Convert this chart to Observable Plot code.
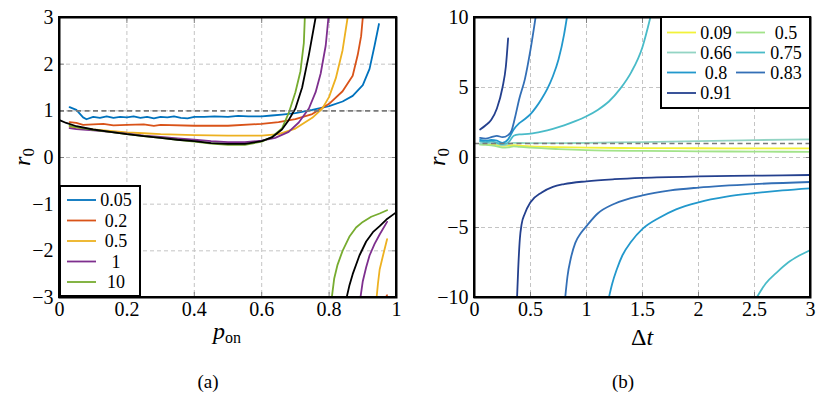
<!DOCTYPE html>
<html><head><meta charset="utf-8">
<script src="https://cdn.jsdelivr.net/npm/d3@7"></script>
<script src="https://cdn.jsdelivr.net/npm/@observablehq/plot@0.6"></script>
<style>
body{margin:0;background:#fff;}
#wrap{position:relative;width:830px;height:397px;display:flex;}
#wrap svg text{font-family:"Liberation Serif","DejaVu Serif",serif;}
</style></head><body><div id="wrap"></div>
<script>
const FONT = '"Liberation Serif", "DejaVu Serif", serif';

// ---------- Panel (a) data ----------
const seriesA = ["0.05", "0.2", "0.5", "1", "10", "limit"];
const colorsA = ["#0072BD", "#D95319", "#EDB120", "#7E2F8E", "#77AC30", "#000000"];
const legendA = ["0.05", "0.2", "0.5", "1", "10"];
const ticksAX = [0, 0.2, 0.4, 0.6, 0.8, 1];
const ticksAY = [-3, -2, -1, 0, 1, 2, 3];

const a005 = [[0.03,1.08],[0.05,1.02],[0.07,0.86],[0.08,0.82],[0.1,0.87],[0.12,0.85],[0.14,0.88],[0.16,0.85],[0.18,0.87],[0.2,0.86],[0.22,0.88],[0.24,0.85],[0.26,0.87],[0.28,0.84],[0.3,0.87],[0.32,0.86],[0.34,0.88],[0.36,0.85],[0.38,0.84],[0.4,0.87],[0.43,0.87],[0.46,0.88],[0.5,0.87],[0.53,0.89],[0.56,0.88],[0.6,0.88],[0.63,0.9],[0.66,0.92],[0.7,0.95],[0.75,1.02],[0.8,1.1],[0.84,1.2],[0.87,1.32],[0.9,1.55],[0.92,1.9],[0.935,2.4],[0.948,2.86]];
const a02pos = [[0.03,0.76],[0.05,0.74],[0.07,0.7],[0.1,0.71],[0.13,0.72],[0.16,0.69],[0.2,0.7],[0.25,0.71],[0.28,0.68],[0.3,0.7],[0.4,0.68],[0.5,0.68],[0.6,0.72],[0.65,0.76],[0.7,0.82],[0.75,0.93],[0.8,1.15],[0.84,1.42],[0.87,1.75],[0.885,2.2],[0.895,2.6],[0.9,3.0]];
const a02neg = [[0.968,-3.0],[0.972,-2.95]];
const a05pos = [[0.03,0.66],[0.05,0.64],[0.1,0.6],[0.15,0.57],[0.2,0.54],[0.25,0.52],[0.3,0.5],[0.35,0.49],[0.4,0.48],[0.5,0.47],[0.55,0.47],[0.6,0.47],[0.65,0.5],[0.7,0.62],[0.75,0.85],[0.78,1.05],[0.8,1.3],[0.82,1.7],[0.84,2.3],[0.855,3.0]];
const a05neg = [[0.941,-3.0],[0.945,-2.7],[0.95,-2.4],[0.96,-2.1],[0.972,-1.75]];
const a1pos = [[0.03,0.63],[0.05,0.61],[0.1,0.58],[0.15,0.55],[0.2,0.51],[0.25,0.47],[0.3,0.44],[0.35,0.41],[0.4,0.38],[0.45,0.35],[0.5,0.33],[0.55,0.33],[0.6,0.36],[0.64,0.42],[0.68,0.55],[0.71,0.75],[0.74,1.05],[0.76,1.4],[0.775,1.8],[0.79,2.4],[0.798,3.0]];
const a1neg = [[0.893,-3.0],[0.9,-2.65],[0.91,-2.35],[0.92,-2.1],[0.935,-1.85],[0.95,-1.65],[0.972,-1.38]];
const a10pos = [[0.03,0.68],[0.05,0.65],[0.1,0.59],[0.15,0.55],[0.2,0.5],[0.25,0.46],[0.3,0.42],[0.35,0.38],[0.4,0.34],[0.45,0.3],[0.5,0.27],[0.55,0.27],[0.6,0.34],[0.63,0.44],[0.66,0.62],[0.68,0.95],[0.7,1.4],[0.715,1.85],[0.725,2.45],[0.728,3.0]];
const a10neg = [[0.808,-3.0],[0.815,-2.6],[0.825,-2.3],[0.84,-2.0],[0.86,-1.7],[0.88,-1.5],[0.9,-1.38],[0.925,-1.27],[0.95,-1.2],[0.972,-1.13]];
const limPos = [[0,0.8],[0.02,0.74],[0.05,0.67],[0.1,0.6],[0.15,0.55],[0.2,0.5],[0.25,0.46],[0.3,0.42],[0.35,0.38],[0.4,0.35],[0.45,0.31],[0.5,0.29],[0.55,0.29],[0.6,0.35],[0.63,0.43],[0.66,0.6],[0.68,0.8],[0.7,1.05],[0.72,1.5],[0.74,2.2],[0.76,3.0]];
const limNeg = [[0.852,-3.0],[0.86,-2.75],[0.87,-2.5],[0.89,-2.1],[0.91,-1.8],[0.93,-1.6],[0.95,-1.47],[0.97,-1.33],[1.0,-1.17]];

// ---------- Panel (b) data ----------
const seriesB = ["0.09", "0.5", "0.66", "0.75", "0.8", "0.83", "0.91"];
const colorsB = ["#f2f23a", "#a2e38a", "#93d4c4", "#49bbc8", "#2298cc", "#336fb6", "#24408e"];
const ticksBX = [0, 0.5, 1, 1.5, 2, 2.5, 3];
const ticksBY = [-10, -5, 0, 5, 10];

const b009 = [[0.05,0.97],[0.1,0.95],[0.15,0.93],[0.2,0.9],[0.25,0.83],[0.3,0.85],[0.35,0.88],[0.4,0.84],[0.5,0.8],[0.75,0.74],[1,0.7],[1.5,0.67],[2,0.66],[2.5,0.65],[3,0.65]];
const b05 = [[0.05,0.92],[0.1,0.9],[0.15,0.86],[0.2,0.8],[0.25,0.7],[0.3,0.72],[0.35,0.8],[0.4,0.76],[0.5,0.7],[0.75,0.6],[1,0.53],[1.5,0.47],[2,0.44],[2.5,0.42],[3,0.4]];
const b066 = [[0.05,1.0],[0.1,1.05],[0.15,1.02],[0.2,1.0],[0.25,0.88],[0.3,0.95],[0.35,1.05],[0.5,1.02],[0.75,1.02],[1,1.05],[1.5,1.1],[2,1.17],[2.5,1.24],[3,1.3]];
const b075pos = [[0.05,1.15],[0.1,1.1],[0.15,1.15],[0.2,1.05],[0.25,0.95],[0.3,1.05],[0.35,1.55],[0.4,1.65],[0.5,1.7],[0.6,1.85],[0.7,2.05],[0.8,2.3],[0.9,2.6],[1.0,2.95],[1.1,3.4],[1.2,4.0],[1.3,4.9],[1.4,6.1],[1.5,7.9],[1.57,10]];
const b075neg = [[2.52,-10],[2.6,-9.0],[2.7,-8.2],[2.8,-7.5],[2.9,-7.0],[3.0,-6.6]];
const b08pos = [[0.05,1.25],[0.1,1.2],[0.15,1.25],[0.2,1.2],[0.25,1.05],[0.3,1.3],[0.35,2.0],[0.4,2.45],[0.45,2.75],[0.5,3.1],[0.55,3.6],[0.6,4.2],[0.65,4.9],[0.7,5.8],[0.75,7.0],[0.8,8.8],[0.825,10]];
const b08neg = [[1.2,-10],[1.23,-9],[1.27,-8],[1.32,-7],[1.4,-6],[1.5,-5.1],[1.65,-4.3],[1.8,-3.7],[2.0,-3.2],[2.25,-2.8],[2.5,-2.55],[2.75,-2.35],[3,-2.2]];
const b083pos = [[0.05,1.4],[0.1,1.35],[0.15,1.45],[0.2,1.55],[0.25,1.45],[0.3,1.6],[0.33,1.9],[0.36,2.8],[0.4,4.2],[0.45,5.6],[0.5,7.7],[0.545,10]];
const b083neg = [[0.81,-10],[0.83,-8.5],[0.86,-7.2],[0.9,-6.1],[0.95,-5.4],[1.0,-4.9],[1.1,-4.0],[1.25,-3.3],[1.5,-2.7],[1.75,-2.35],[2.0,-2.15],[2.5,-1.9],[3,-1.75]];
const b091pos = [[0.05,2.0],[0.1,2.3],[0.15,2.7],[0.2,3.5],[0.25,5.0],[0.28,6.5],[0.3,8.5]];
const b091neg = [[0.38,-10],[0.39,-8],[0.405,-5.8],[0.42,-4.8],[0.45,-4.0],[0.5,-3.2],[0.6,-2.5],[0.7,-2.1],[0.8,-1.9],[1.0,-1.7],[1.25,-1.55],[1.5,-1.45],[2,-1.35],[2.5,-1.3],[3,-1.25]];

// ---------- build tables ----------
function table(segs) {
  return segs.flatMap(([s, seg, pts]) => pts.map(([x, y]) => ({s, key: s + "|" + seg, x, y})));
}
const tableA = table([
  ["0.05","p",a005],["0.2","p",a02pos],["0.2","n",a02neg],["0.5","p",a05pos],["0.5","n",a05neg],
  ["1","p",a1pos],["1","n",a1neg],["10","p",a10pos],["10","n",a10neg],["limit","p",limPos],["limit","n",limNeg]
]);
const tableB = table([
  ["0.09","p",b009],["0.5","p",b05],["0.66","p",b066],["0.75","p",b075pos],["0.75","n",b075neg],
  ["0.8","p",b08pos],["0.8","n",b08neg],["0.83","p",b083pos],["0.83","n",b083neg],["0.91","p",b091pos],["0.91","n",b091neg]
]);

const fmt = d => (d < 0 ? "\u2212" + (-d) : String(d));

function panel(opts) {
  const {data, xdom, ydom, tx, ty, series, colors, ml, mr, curve} = opts;
  const gridStyle = {stroke: "#c4c4c4", strokeOpacity: 1, strokeDasharray: "4,3", strokeWidth: 1};
  return Plot.plot({
    width: 415, height: 397,
    marginLeft: ml, marginRight: mr, marginTop: 17, marginBottom: 100,
    x: {domain: xdom},
    y: {domain: ydom},
    color: {domain: series, range: colors},
    style: `font-family: ${FONT}; font-size: 20px; background: white; color: black;`,
    marks: [
      Plot.gridX(tx, gridStyle),
      Plot.gridY(ty, gridStyle),
      Plot.axisX(tx, {anchor: "bottom", tickSize: 0, tickPadding: 4, tickFormat: fmt, label: null, fontSize: 20, fontFamily: FONT}),
      Plot.axisY(ty, {anchor: "left", tickSize: 0, tickPadding: 6, tickFormat: fmt, label: null, fontSize: 20, fontFamily: FONT}),
      Plot.axisX(tx, {anchor: "bottom", tickSize: -5, fill: "none", stroke: "#808080", label: null}),
      Plot.axisX(tx, {anchor: "top", tickSize: -5, fill: "none", stroke: "#808080", label: null}),
      Plot.axisY(ty, {anchor: "left", tickSize: -5, fill: "none", stroke: "#808080", label: null}),
      Plot.axisY(ty, {anchor: "right", tickSize: -5, fill: "none", stroke: "#808080", label: null}),
      Plot.line(data, {x: "x", y: "y", z: "key", stroke: "s", strokeWidth: 1.8, clip: true, curve}),
      Plot.ruleY([1], {stroke: "#7a7a7a", strokeWidth: 1.6, strokeDasharray: "5,3.5"}),
      Plot.frame({stroke: "black", strokeWidth: 2})
    ]
  });
}

const plotA = panel({data: tableA, xdom: [0, 1], ydom: [-3, 3], tx: ticksAX, ty: ticksAY, series: seriesA, colors: colorsA, ml: 59, mr: 19, curve: "linear"});
const plotB = panel({data: tableB, xdom: [0, 3], ydom: [-10, 10], tx: ticksBX, ty: ticksBY, series: seriesB, colors: colorsB, ml: 59, mr: 20, curve: "monotone-x"});

function addLabels(svg, xLabelFn, caption) {
  const s = d3.select(svg);
  const ry = s.append("text").attr("transform", "translate(30,157) rotate(-90)")
    .attr("text-anchor", "middle").attr("font-family", FONT).attr("font-size", 24).attr("fill", "black");
  ry.append("tspan").attr("font-style", "italic").text("r");
  ry.append("tspan").attr("font-size", 17).attr("dy", 4).text("0");
  xLabelFn(s);
  s.append("text").attr("x", 208).attr("y", 388).attr("text-anchor", "middle")
    .attr("font-family", FONT).attr("font-size", 19).attr("fill", "black").text(caption);
}
function drawLegend(svg, box, items) {
  const s = d3.select(svg);
  const g = s.append("g");
  g.append("rect").attr("x", box.x).attr("y", box.y).attr("width", box.w).attr("height", box.h)
    .attr("fill", "white").attr("stroke", "black").attr("stroke-width", 2);
  for (const it of items) {
    g.append("line").attr("x1", it.lx).attr("x2", it.lx + 29).attr("y1", it.y).attr("y2", it.y)
      .attr("stroke", it.color).attr("stroke-width", 1.8);
    g.append("text").attr("x", it.tx).attr("y", it.y + 6).attr("text-anchor", "middle")
      .attr("font-family", FONT).attr("font-size", 18).attr("fill", "black").text(it.label);
  }
}

addLabels(plotA, s => {
  const t = s.append("text").attr("x", 227).attr("y", 339).attr("text-anchor", "middle")
    .attr("font-family", FONT).attr("font-size", 24).attr("fill", "black");
  t.append("tspan").attr("font-style", "italic").text("p");
  t.append("tspan").attr("font-size", 16).attr("dy", 4).text("on");
}, "(a)");
addLabels(plotB, s => {
  const t = s.append("text").attr("x", 227).attr("y", 345).attr("text-anchor", "middle")
    .attr("font-family", FONT).attr("font-size", 24).attr("fill", "black");
  t.append("tspan").text("\u0394");
  t.append("tspan").attr("font-style", "italic").text("t");
}, "(b)");

const rowsA = [200, 220.5, 241, 261.5, 282];
drawLegend(plotA, {x: 60, y: 186, w: 80, h: 110},
  legendA.map((l, i) => ({label: l, color: colorsA[i], lx: 67, tx: 116, y: rowsA[i]})));
const rowsB = [32.5, 52.5, 72.5, 93];
drawLegend(plotB, {x: 246, y: 17, w: 149, h: 91},
  seriesB.map((l, i) => ({label: l, color: colorsB[i], lx: i % 2 ? 321 : 252, tx: i % 2 ? 371 : 301, y: rowsB[Math.floor(i / 2)]})));

// redraw frame on top of legend
for (const [svg, w] of [[plotA, 415 - 19], [plotB, 415 - 20]]) {
  d3.select(svg).append("rect").attr("x", 59).attr("y", 17).attr("width", w - 59).attr("height", 397 - 100 - 17)
    .attr("fill", "none").attr("stroke", "black").attr("stroke-width", 2);
}

document.getElementById("wrap").append(plotA, plotB);
</script></body></html>
